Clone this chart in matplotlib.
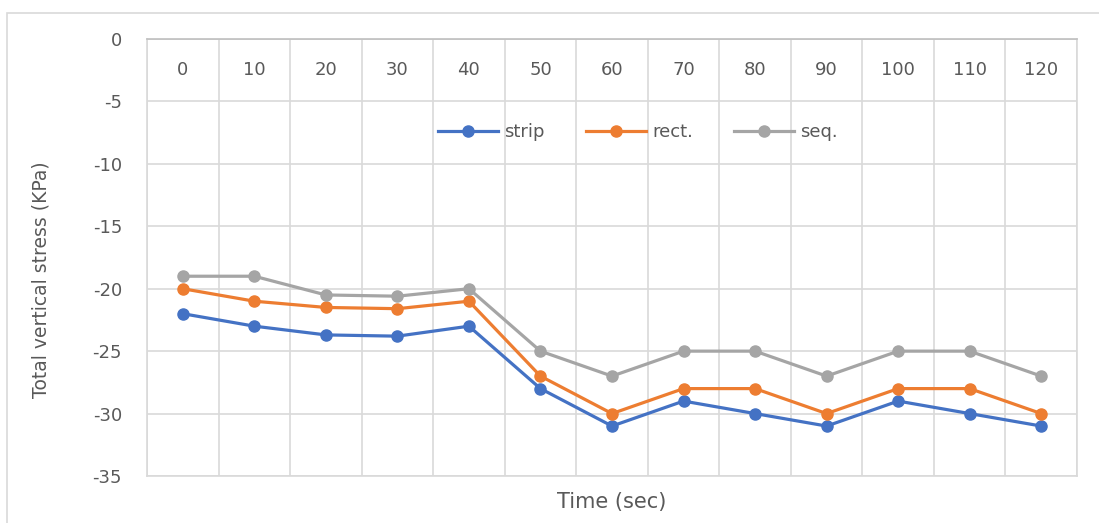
import numpy as np
import matplotlib
matplotlib.use("Agg")
import matplotlib.pyplot as plt
from matplotlib.patches import Rectangle

# time steps (sec) and total vertical stress (KPa) for each footing case
times = [0, 10, 20, 30, 40, 50, 60, 70, 80, 90, 100, 110, 120]
strip = [-22, -23, -23.7, -23.8, -23, -28, -31, -29, -30, -31, -29, -30, -31]
rect = [-20, -21, -21.5, -21.6, -21, -27, -30, -28, -28, -30, -28, -28, -30]
seq = [-19, -19, -20.5, -20.6, -20, -25, -27, -25, -25, -27, -25, -25, -27]

series = [("strip", strip, "#4472C4"),
          ("rect.", rect, "#ED7D31"),
          ("seq.", seq, "#A5A5A5")]

text_color = "#595959"
grid_color = "#D9D9D9"

plt.rcParams["font.family"] = ["DejaVu Sans"]
plt.rcParams["axes.unicode_minus"] = False

fig = plt.figure(figsize=(10.99, 5.23), dpi=100)
W, H = 1099, 523

# light chart-area frame
fig.patches.append(Rectangle((7 / W, -0.1), 1.2, 1 - 13 / H + 0.1,
                             transform=fig.transFigure, fill=False,
                             edgecolor=grid_color, linewidth=1.2))

ax = fig.add_axes([147 / W, 1 - 476 / H, 930 / W, 437 / H])

x = np.arange(len(times))
for name, vals, col in series:
    ax.plot(x, vals, color=col, linewidth=2.3, marker="o", markersize=8,
            label=name, zorder=3)

ax.set_xlim(-0.5, len(times) - 0.5)
ax.set_ylim(-35, 0)
ax.set_yticks(np.arange(-35, 1, 5))

# category labels sit just under the axis line at y = 0
ax.set_xticks(x)
ax.set_xticklabels([str(t) for t in times])
ax.set_xticks(np.arange(-0.5, len(times), 1), minor=True)
ax.tick_params(axis="x", which="major", top=False, bottom=False,
               labeltop=True, labelbottom=False, pad=-28.5,
               labelsize=13, labelcolor=text_color, length=0)
ax.tick_params(axis="x", which="minor", length=0)
ax.tick_params(axis="y", length=0, pad=18, labelsize=13,
               labelcolor=text_color)

ax.grid(True, axis="y", which="major", color=grid_color, linewidth=1.2)
ax.grid(True, axis="x", which="minor", color=grid_color, linewidth=1.2)
ax.grid(False, axis="x", which="major")
for side, sp in ax.spines.items():
    sp.set_color(grid_color)
    sp.set_linewidth(1.2)
ax.spines["top"].set_color("#BFBFBF")

ax.xaxis.set_label_position("bottom")
ax.set_xlabel("Time (sec)", fontsize=15, color=text_color, labelpad=8)
ax.set_ylabel("Total vertical stress (KPa)", fontsize=13.5, color=text_color)
ax.yaxis.set_label_coords(-0.104, 0.45)

ax.legend(loc="center", bbox_to_anchor=(0.528, 0.787), ncol=3, frameon=False,
          fontsize=13, labelcolor=text_color, handlelength=3.3,
          handletextpad=0.35, columnspacing=2.3)

fig.savefig("out.png", dpi=100)
